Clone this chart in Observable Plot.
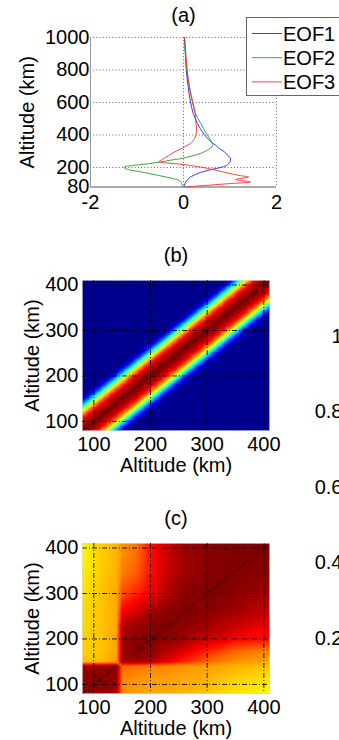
<!DOCTYPE html>
<html><head><meta charset="utf-8">
<script src="https://cdn.jsdelivr.net/npm/d3@7"></script>
<script src="https://cdn.jsdelivr.net/npm/@observablehq/plot@0.6"></script>
<style>
html,body{margin:0;padding:0;background:#fff;overflow:hidden;width:339px;height:740px}
#root{position:relative;width:339px;height:740px;overflow:hidden}
.panel{position:absolute}
svg{overflow:visible}
#legend{position:absolute;left:246px;top:17px;width:100px;height:79px;border:1px solid #666;background:#fff;box-sizing:border-box}
</style></head><body><div id="root"></div>
<script>
const FONT = '"Liberation Sans", Arial, Helvetica, sans-serif';

// ---------- Panel (a): EOF profiles ----------
const altA = [80, 90, 100, 111, 120, 126, 135, 142, 150, 163, 175, 183, 194, 200, 205, 212, 218, 224, 234, 245, 255, 265, 276, 286, 296, 306, 317, 337, 348, 370, 405, 440, 471, 532, 604, 676, 800, 900, 1000];
const eof1 = [0.01, 0.02, 0.03, 0.05, 0.07, 0.09, 0.12, 0.15, 0.21, 0.31, 0.43, 0.54, 0.70, 0.80, 0.86, 0.92, 0.95, 0.97, 1.00, 1.01, 1.01, 0.99, 0.95, 0.92, 0.88, 0.83, 0.77, 0.69, 0.64, 0.55, 0.44, 0.36, 0.30, 0.21, 0.15, 0.11, 0.06, 0.04, 0.02];
const eof2 = [0.00, -0.03, -0.04, -0.05, -0.09, -0.14, -0.27, -0.38, -0.52, -0.74, -0.95, -1.12, -1.25, -1.28, -1.27, -1.10, -0.92, -0.74, -0.50, -0.28, -0.05, 0.10, 0.25, 0.36, 0.44, 0.51, 0.57, 0.63, 0.62, 0.58, 0.50, 0.43, 0.37, 0.26, 0.19, 0.14, 0.07, 0.04, 0.02];
const eof3 = [0.05, 0.50, 0.95, 1.44, 1.25, 1.12, 1.28, 1.40, 1.22, 1.00, 0.82, 0.70, 0.52, 0.42, 0.32, 0.15, 0.00, -0.20, -0.53, -0.48, -0.43, -0.37, -0.30, -0.25, -0.19, -0.12, -0.04, 0.08, 0.15, 0.22, 0.27, 0.28, 0.27, 0.25, 0.20, 0.14, 0.08, 0.05, 0.02];
const seriesNames = ["EOF1", "EOF2", "EOF3"];
const seriesColors = ["#1f1fff", "#22a022", "#ff2a2a"];
const xDomA = [-2, 2];
const yDomA = [80, 1000];
const xTicksA = [-2, 0, 2];
const yTicksA = [80, 200, 400, 600, 800, 1000];
const gridXA = [0, 2];
const gridYA = [200, 400, 600, 800, 1000];

// ---------- Panel (b): correlation vs separation (jet band) ----------
const sepB = [0, 10, 20, 30, 40, 50, 60, 70, 80, 330];
const corrB = [1.00, 0.98, 0.93, 0.84, 0.66, 0.45, 0.22, 0.06, 0.00, 0.00];

// ---------- Panel (c): correlation matrix ----------
const altC = [80, 110, 140, 150, 175, 200, 230, 260, 300, 350, 410];
const corrC = [
  [1.00, 0.98, 0.97, 0.74, 0.72, 0.71, 0.71, 0.70, 0.68, 0.65, 0.63],
  [0.98, 1.00, 0.98, 0.74, 0.73, 0.72, 0.72, 0.71, 0.70, 0.67, 0.65],
  [0.97, 0.98, 1.00, 0.77, 0.76, 0.75, 0.74, 0.73, 0.72, 0.70, 0.68],
  [0.68, 0.69, 0.72, 0.98, 0.97, 0.95, 0.90, 0.84, 0.78, 0.73, 0.71],
  [0.67, 0.68, 0.71, 0.97, 1.00, 0.99, 0.95, 0.91, 0.85, 0.78, 0.75],
  [0.67, 0.68, 0.71, 0.97, 0.99, 1.00, 0.99, 0.97, 0.93, 0.88, 0.86],
  [0.66, 0.68, 0.71, 0.95, 0.97, 0.99, 1.00, 0.99, 0.97, 0.93, 0.89],
  [0.66, 0.68, 0.71, 0.88, 0.92, 0.96, 0.99, 1.00, 0.99, 0.97, 0.93],
  [0.65, 0.68, 0.71, 0.80, 0.84, 0.89, 0.95, 0.99, 1.00, 0.99, 0.97],
  [0.64, 0.67, 0.70, 0.75, 0.78, 0.86, 0.93, 0.97, 0.99, 1.00, 0.99],
  [0.63, 0.67, 0.70, 0.73, 0.76, 0.86, 0.92, 0.97, 0.99, 1.00, 1.00]
];

const domBC = [80, 410];
const ticksBC = [100, 200, 300, 400];
const cbTicks = [0.2, 0.4, 0.6, 0.8, 1];
const jetStops = [0, 0.125, 0.375, 0.625, 0.875, 1];
const jetColors = ["#00008f", "#0000ff", "#00ffff", "#ffff00", "#ff0000", "#800000"];
const axisLabel = "Altitude (km)";

// ---------- build tables ----------
const rowsA = [];
[eof1, eof2, eof3].forEach((vals, i) => altA.forEach((a, j) => rowsA.push({series: seriesNames[i], alt: a, v: vals[j]})));

const stepB = d3.range(domBC[0], domBC[1] + 1, 10);
const ptsB = [];
stepB.forEach(x => sepB.forEach((s, i) => {
  ptsB.push({x, y: x + s, v: corrB[i]});
  if (s > 0) ptsB.push({x, y: x - s, v: corrB[i]});
}));

const ptsC = [];
altC.forEach((y, i) => altC.forEach((x, j) => ptsC.push({x, y, v: corrC[i][j]})));

const root = document.getElementById("root");
const baseStyle = {fontFamily: FONT, fontSize: "20px", background: "transparent", overflow: "visible", color: "#000"};
const fmt = d => String(d);
function place(el, left, top) { el.classList.add("panel"); el.style.left = left + "px"; el.style.top = top + "px"; root.appendChild(el); }

// ---------- (a) ----------
const plotA = Plot.plot({
  width: 339, height: 215,
  marginLeft: 90, marginRight: 63, marginTop: 37, marginBottom: 28.5,
  style: baseStyle,
  x: {domain: xDomA, label: null},
  y: {domain: yDomA, label: null},
  color: {domain: seriesNames, range: seriesColors},
  marks: [
    Plot.gridY(gridYA, {stroke: "#333", strokeOpacity: 0.75, strokeDasharray: "1,2.2"}),
    Plot.gridX(gridXA, {stroke: "#333", strokeOpacity: 0.75, strokeDasharray: "1,2.2"}),
    Plot.ruleX([xDomA[0]], {stroke: "#999", strokeWidth: 1}),
    Plot.ruleY([yDomA[0]], {stroke: "#aaa", strokeWidth: 2}),
    Plot.line(rowsA, {x: "v", y: "alt", z: "series", stroke: "series", strokeWidth: 0.9, curve: "monotone-y"}),
    Plot.axisX(xTicksA, {tickSize: 0, tickPadding: 8, fontSize: 20, tickFormat: fmt, label: null}),
    Plot.axisY(yTicksA, {tickSize: 0, tickPadding: 1, fontSize: 20, tickFormat: fmt, label: null}),
    Plot.text(["(a)"], {text: d => d, frameAnchor: "top", textAnchor: "middle", lineAnchor: "bottom", dy: -16, fontSize: 20}),
    Plot.text([axisLabel], {text: d => d, frameAnchor: "left", textAnchor: "middle", rotate: -90, lineAnchor: "bottom", dx: -57, fontSize: 20})
  ]
});
place(plotA, 0, 0);

// legend (a)
const leg = document.createElement("div");
leg.id = "legend";
const ns = "http://www.w3.org/2000/svg";
const lsvg = document.createElementNS(ns, "svg");
lsvg.setAttribute("width", "100"); lsvg.setAttribute("height", "78");
seriesNames.forEach((name, i) => {
  const base = 22.5 + i * 24.2;
  const ln = document.createElementNS(ns, "line");
  ln.setAttribute("x1", 5); ln.setAttribute("x2", 35);
  ln.setAttribute("y1", base - 7); ln.setAttribute("y2", base - 7);
  ln.setAttribute("stroke", seriesColors[i]); ln.setAttribute("stroke-width", 0.9);
  lsvg.appendChild(ln);
  const tx = document.createElementNS(ns, "text");
  tx.setAttribute("x", 36); tx.setAttribute("y", base);
  tx.setAttribute("font-family", FONT); tx.setAttribute("font-size", 20);
  tx.textContent = name;
  lsvg.appendChild(tx);
});
leg.appendChild(lsvg);
root.appendChild(leg);

// ---------- heatmap helper ----------
function heat(pts, title, height, mTop, mBottom) {
  return Plot.plot({
    width: 339, height,
    marginLeft: 82, marginRight: 70, marginTop: mTop, marginBottom: mBottom,
    style: baseStyle,
    x: {domain: domBC, label: null},
    y: {domain: domBC, label: null},
    color: {type: "linear", domain: jetStops, range: jetColors, clamp: true},
    marks: [
      Plot.raster(pts, {x: "x", y: "y", fill: "v", interpolate: "barycentric", x1: domBC[0], x2: domBC[1], y1: domBC[0], y2: domBC[1]}),
      Plot.gridX(ticksBC, {stroke: "#000", strokeOpacity: 0.85, strokeDasharray: "5,2,1,2"}),
      Plot.gridY(ticksBC, {stroke: "#000", strokeOpacity: 0.85, strokeDasharray: "5,2,1,2"}),
      Plot.link([domBC], {x1: d => d[0], y1: d => d[0], x2: d => d[1], y2: d => d[1], stroke: "#000", strokeOpacity: 0.7, strokeDasharray: "5,2,1,2"}),
      Plot.frame({stroke: "#bbb", strokeDasharray: "1,2"}),
      Plot.axisX(ticksBC, {tickSize: 0, tickPadding: 6, fontSize: 20, tickFormat: fmt, label: null}),
      Plot.axisY(ticksBC, {tickSize: 0, tickPadding: 4, fontSize: 20, tickFormat: fmt, label: null}),
      Plot.text([title], {text: d => d, frameAnchor: "top", textAnchor: "middle", lineAnchor: "bottom", dy: -19, fontSize: 20}),
      Plot.text([axisLabel], {text: d => d, frameAnchor: "bottom", textAnchor: "middle", lineAnchor: "bottom", dy: 41, fontSize: 20}),
      Plot.text([axisLabel], {text: d => d, frameAnchor: "left", textAnchor: "middle", rotate: -90, lineAnchor: "bottom", dx: -44, fontSize: 20})
    ]
  });
}
place(heat(ptsB, "(b)", 230, 30, 50), 0, 250);
place(heat(ptsC, "(c)", 240, 43, 47), 0, 500);

// ---------- colorbar tick labels ----------
const plotCB = Plot.plot({
  width: 64, height: 740,
  marginLeft: 62, marginRight: 2, marginTop: 336, marginBottom: 26.5,
  style: baseStyle,
  y: {domain: [0, 1], label: null},
  marks: [
    Plot.axisY(cbTicks, {tickSize: 0, tickPadding: 0, tickFormat: fmt, fontSize: 20, label: null})
  ]
});
place(plotCB, 280, 0);
</script></body></html>
